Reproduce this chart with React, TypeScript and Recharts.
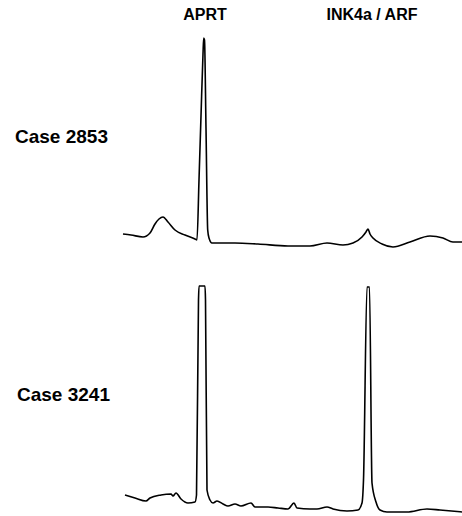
import { Line, LineChart, XAxis, YAxis } from 'recharts';

// scan position vs. fluorescence intensity (relative units)
const case2853Scan = [
	3, 11, 23, 30, 35, 39, 43, 48, 55, 65, 75, 77, 79, 81, 83, 83.7, 84.5, 86, 87.7, 89, 92, 115, 138, 168,
	190, 207, 223, 233, 242, 246, 248, 250, 253, 262, 273, 290, 310, 323, 333, 342,
];
const case2853Signal = [
	16, 15, 13, 17, 26, 31, 33, 28, 20, 15, 11, 10, 70, 134, 196, 212, 210, 122, 20, 12, 7, 7, 6, 4,
	4, 7, 5, 7, 13, 18, 21, 16, 12, 6, 3, 8, 14, 12, 8, 8,
];

const case3241Scan = [
	5, 15, 26, 30, 41, 51, 53, 56, 61, 68, 75, 76.5, 78.5, 79, 85, 85.5, 87, 90, 93, 97, 103, 108, 115,
	121, 131, 135, 148, 158, 168, 174, 177, 190, 197, 207, 213, 227, 238, 242, 243.5, 247, 249.5, 252,
	256, 260, 267, 287, 307, 320, 342,
];
const case3241Signal = [
	21, 18, 15, 18, 21, 22, 20, 23, 17, 13, 14, 21, 216, 230, 230, 216, 26, 16, 13, 15, 12, 10, 12,
	10, 13, 9, 9, 8, 7, 13, 8, 7, 7, 9, 7, 5, 6, 13, 36, 229, 229, 33,
	14, 6, 4, 4, 7, 6, 4,
];

const peakLabels = ['APRT', 'INK4a / ARF'];
const caseLabels = ['Case 2853', 'Case 3241'];

const toRows = (xs: number[], ys: number[]) => xs.map((x, i) => ({ scan: x, signal: ys[i] }));

const traces = [toRows(case2853Scan, case2853Signal), toRows(case3241Scan, case3241Signal)];

const font = '"Liberation Sans", Arial, sans-serif';

function Trace({ data }: { data: { scan: number; signal: number }[] }) {
	return (
		<LineChart width={342} height={250} data={data} margin={{ top: 0, right: 0, left: 0, bottom: 0 }}>
			<XAxis dataKey="scan" type="number" domain={[0, 342]} hide allowDataOverflow />
			<YAxis type="number" domain={[0, 250]} hide allowDataOverflow />
			<Line
				type="monotone"
				dataKey="signal"
				stroke="#000"
				strokeWidth={1.6}
				dot={false}
				isAnimationActive={false}
			/>
		</LineChart>
	);
}

export default function App() {
	return (
		<div style={{ position: 'absolute', left: 0, top: 0, width: 462, height: 516, background: '#fff' }}>
			<div style={{ position: 'absolute', left: 120, top: 0 }}>
				<Trace data={traces[0]} />
			</div>
			<div style={{ position: 'absolute', left: 120, top: 266 }}>
				<Trace data={traces[1]} />
			</div>
			<svg width={462} height={516} style={{ position: 'absolute', left: 0, top: 0, pointerEvents: 'none' }}>
				<text x={205} y={20} textAnchor="middle" fontFamily={font} fontWeight="bold" fontSize={16}>
					{peakLabels[0]}
				</text>
				<text x={372} y={20} textAnchor="middle" fontFamily={font} fontWeight="bold" fontSize={16}>
					{peakLabels[1]}
				</text>
				<text x={15} y={143} fontFamily={font} fontWeight="bold" fontSize={19}>
					{caseLabels[0]}
				</text>
				<text x={17} y={401} fontFamily={font} fontWeight="bold" fontSize={19}>
					{caseLabels[1]}
				</text>
			</svg>
		</div>
	);
}
